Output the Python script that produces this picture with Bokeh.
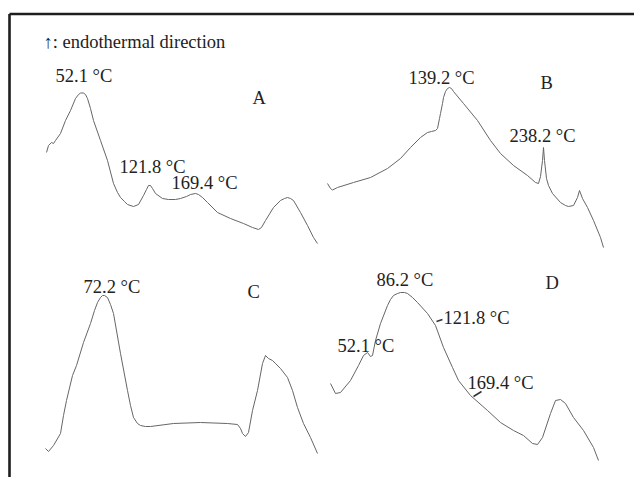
from bokeh.plotting import figure
from bokeh.models import Range1d, ColumnDataSource
from bokeh.core.properties import value
from bokeh.embed import file_html
from bokeh.resources import INLINE

# Curves (x, y in picture units, y downward)
A_x = [46, 48, 51, 53, 55, 60, 65, 70, 75, 78, 80, 83, 85, 87, 90, 93, 100, 107, 113, 117, 120, 124, 127, 133, 138, 143, 146, 148, 150, 152, 155, 162, 168, 175, 180, 186, 190, 195, 198, 202, 207, 217, 230, 243, 252, 258, 261, 265, 273, 280, 284, 287, 290, 293, 300, 307, 313, 317]
A_y = [152, 145, 142, 143, 140, 133, 120, 110, 98, 94, 92.5, 92.5, 94, 98, 108, 120, 140, 160, 183, 192, 197, 201, 204, 206, 204, 195, 189, 185, 185, 188, 193, 198, 199, 199, 198, 196, 194, 193, 194, 197, 202, 212, 218, 223, 227, 229, 227, 220, 207, 200, 198, 197, 198, 200, 212, 225, 237, 243]

B_x = [327, 330, 332, 337, 353, 370, 387, 400, 410, 420, 427, 431, 435, 437, 439, 440, 442, 443, 445, 447, 449, 451, 453, 463, 477, 490, 500, 513, 527, 535, 538, 540, 542, 543, 544, 546, 548, 552, 560, 565, 568, 573, 577, 579, 582, 587, 593, 600, 603]
B_y = [183, 188, 189.5, 187, 182, 177, 168, 158, 147, 137, 132, 131, 130, 128, 118, 113, 103, 97, 91, 88, 87, 88, 91, 103, 120, 140, 153, 165, 175, 182, 183, 176, 160, 147, 160, 178, 185, 193, 202, 205, 206, 205, 197, 190, 198, 207, 220, 237, 247]

C_x = [45, 48, 53, 60, 63, 66, 72, 76, 83, 90, 94, 97, 100, 102, 104, 107, 110, 113, 120, 127, 130, 133, 137, 140, 145, 150, 173, 200, 227, 237, 240, 242, 245, 248, 252, 257, 262, 265, 268, 272, 275, 280, 287, 292, 297, 303, 310, 317]
C_y = [448, 451, 445, 433, 415, 400, 375, 365, 342, 323, 310, 302, 297, 295, 295, 297, 304, 313, 353, 390, 405, 417, 423, 425, 426, 426, 423, 422, 423, 424, 428, 433, 436, 432, 410, 390, 363, 355, 358, 360, 363, 368, 377, 390, 407, 423, 437, 453]

D_x = [330, 335, 340, 350, 358, 363, 367, 370, 372, 375, 380, 387, 390, 393, 397, 400, 404, 407, 412, 417, 427, 435, 443, 452, 458, 470, 487, 500, 513, 523, 532, 537, 542, 550, 555, 560, 565, 573, 583, 593, 598]
D_y = [383, 393, 392, 380, 365, 355, 352, 356, 355, 340, 323, 305, 299, 295, 293, 292, 292, 293, 297, 302, 313, 325, 347, 367, 380, 395, 410, 422, 430, 435, 443, 444, 437, 413, 400, 399, 403, 417, 430, 447, 460]

# Labels
label_text = ["\u2191: endothermal direction",
              "52.1 \u00b0C", "A", "121.8 \u00b0C", "169.4 \u00b0C",
              "139.2 \u00b0C", "B", "238.2 \u00b0C",
              "72.2 \u00b0C", "C",
              "86.2 \u00b0C", "D", "121.8 \u00b0C", "52.1 \u00b0C", "169.4 \u00b0C"]
label_x = [43, 55, 252, 119, 171, 408, 540, 509, 83, 247, 376, 545, 443, 337, 467]
label_y = [47, 81, 103, 172, 188, 83, 88, 141, 292, 297, 285, 288, 323, 351, 388]

# Leader ticks in panel D
lead_x0 = [436, 473]
lead_y0 = [321, 396]
lead_x1 = [442, 481]
lead_y1 = [319, 391]

W, H = 634, 477
p = figure(width=W, height=H, output_backend="svg", toolbar_location=None,
           x_range=Range1d(0, W), y_range=Range1d(H, 0), min_border=0)
p.axis.visible = False
p.grid.visible = False
p.outline_line_color = None
p.background_fill_color = "white"
p.border_fill_color = "white"

# frame (top and left)
p.segment(x0=[9, 9], y0=[13.5, 13.5], x1=[W, 9], y1=[13.5, H],
          line_color="#1e1e1e", line_width=2.6)

curve_color = "#666666"
for xs, ys in [(A_x, A_y), (B_x, B_y), (C_x, C_y), (D_x, D_y)]:
    p.line(xs, ys, line_color=curve_color, line_width=1.0, line_join="round")

p.segment(x0=lead_x0, y0=lead_y0, x1=lead_x1, y1=lead_y1,
          line_color="#333333", line_width=1.5)

src = ColumnDataSource(dict(x=label_x, y=label_y, t=label_text))
p.text(x="x", y="y", text="t", source=src,
       text_font=value("Liberation Serif"),
       text_font_size="18.5px", text_color="#222222",
       text_align="left", text_baseline="bottom", y_offset=4)

open("out.html", "w").write(file_html(p, INLINE))
